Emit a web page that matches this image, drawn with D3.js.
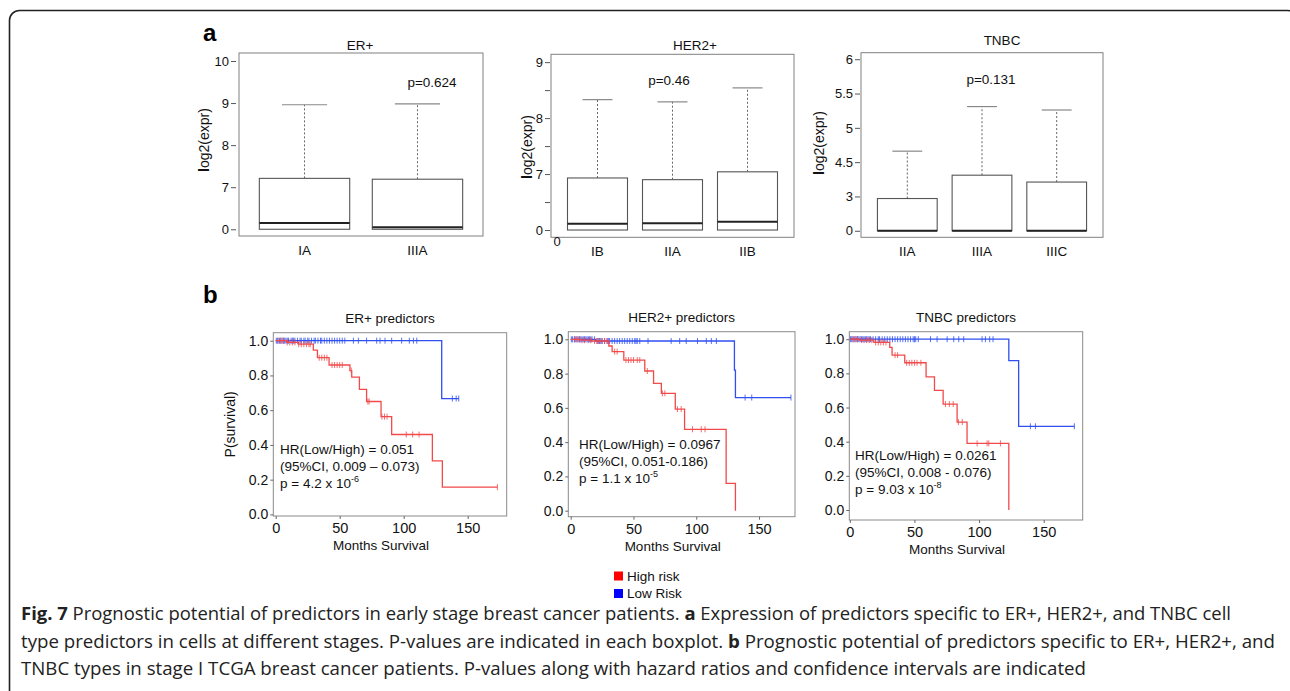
<!DOCTYPE html>
<html>
<head>
<meta charset="utf-8">
<script src="https://cdn.jsdelivr.net/npm/d3@7"></script>
<style>
  body { margin: 0; background: #fff; }
  svg { display: block; font-family: "Liberation Sans", Arial, sans-serif; }
</style>
</head>
<body>
<svg id="chart" width="1290" height="691"></svg>
<script>
// ---- panel a: boxplots (values in axis-position units, the axis labels are not linear) ----
var erStages = ["IA", "IIIA"];
var erQ1 = [0, 0];
var erMedian = [0.15, 0.05];
var erQ3 = [1.21, 1.19];
var erWhisker = [2.96, 2.98];
var erTickPos = [0, 1, 2, 3, 4];
var erTickLabels = ["0", "7", "8", "9", "10"];

var herStages = ["IB", "IIA", "IIB"];
var herQ1 = [0, 0, 0];
var herMedian = [0.11, 0.12, 0.15];
var herQ3 = [0.93, 0.9, 1.04];
var herWhisker = [2.33, 2.29, 2.54];
var herTickPos = [0, 0.5, 1, 1.5, 2, 2.5, 3];
var herTickLabels = ["0", "7", "8", "9"];

var tnStages = ["IIA", "IIIA", "IIIC"];
var tnQ1 = [0, 0, 0];
var tnMedian = [0, 0, 0];
var tnQ3 = [0.94, 1.62, 1.42];
var tnWhisker = [2.32, 3.62, 3.52];
var tnTickPos = [0, 1, 2, 3, 4, 5];
var tnTickLabels = ["0", "3", "4.5", "5", "5.5", "6"];

// ---- panel b: Kaplan-Meier curves (months, survival) ----
var erHighTime = [0, 8.6, 17.7, 29.4, 32.6, 41.7, 58, 59.4, 65.4, 71, 82.3, 90.6, 122.4, 130.2];
var erHighSurv = [1, 0.99, 0.98, 0.946, 0.902, 0.86, 0.828, 0.79, 0.72, 0.65, 0.563, 0.46, 0.308, 0.157];
var erHighEnd = 173.2;
var erHighCensor = [2, 4, 6, 9, 11, 13, 15, 18, 20, 22, 24, 26, 27, 34, 36, 38, 40, 44, 46, 48, 50, 52, 59, 72, 73, 83, 85, 87, 102, 107, 112, 173.2];
var erLowTime = [0, 129.7];
var erLowSurv = [1, 0.667];
var erLowEnd = 143;
var erLowCensor = [0.5, 1.5, 3, 4, 5, 6, 7, 8, 9, 10, 12, 13, 14, 15, 17, 19, 20, 22, 23, 25, 26, 28, 30, 31, 33, 35, 36, 38, 40, 42, 44, 46, 48, 50, 52, 54,
  60.7, 64.6, 71, 78.9, 81.5, 85.4, 90.6, 98.4, 104.4, 107.6, 110.2, 138, 141, 143];

var herHighTime = [0, 8, 16.7, 30.4, 33, 42.3, 59, 66, 72.2, 83.3, 90.7, 123.8, 131.2];
var herHighSurv = [1, 0.995, 0.99, 0.961, 0.928, 0.879, 0.815, 0.743, 0.685, 0.593, 0.475, 0.16, 0];
var herHighEnd = 131.2;
var herHighCensor = [3, 5, 7, 9, 11, 14, 16, 19, 21, 23, 25, 27, 29, 35, 37, 44, 46, 48, 50, 53, 55, 61, 73, 75, 85, 88, 97, 104, 107];
var herLowTime = [0, 20, 130.4, 131.2];
var herLowSurv = [1, 0.99, 0.82, 0.66];
var herLowEnd = 175.4;
var herLowCensor = [0.5, 1.5, 3, 4, 5, 6, 7, 8, 9, 10, 11, 12, 13, 14, 15, 16, 17, 19, 21, 22, 23, 24, 25, 27, 29, 30, 31, 33, 35, 37, 39, 41, 43, 45, 47, 49, 51, 52, 53, 55,
  61.6, 80, 86.8, 92, 101, 108, 112, 116, 138.9, 144.2, 175.4];

var tnHighTime = [0, 7, 18.6, 30.9, 32.7, 42.5, 59, 65.5, 72.2, 83, 90.7, 123];
var tnHighSurv = [1, 0.995, 0.981, 0.952, 0.907, 0.862, 0.78, 0.7, 0.62, 0.515, 0.39, 0];
var tnHighEnd = 123;
var tnHighCensor = [2, 4, 6, 9, 11, 13, 15, 17, 20, 22, 24, 26, 28, 35, 37, 44, 46, 48, 50, 52, 55, 74, 77, 80, 84, 87, 98.5, 106.2, 107.5, 116.5];
var tnLowTime = [0, 123, 130.6];
var tnLowSurv = [1, 0.874, 0.49];
var tnLowEnd = 173.7;
var tnLowCensor = [0.5, 1.5, 3, 4, 5, 6, 7, 8, 9, 10, 11, 12, 13, 14, 15, 16, 18, 20, 22, 23, 25, 27, 29, 31, 33, 35, 37, 39, 41, 43, 45, 47, 49, 50, 51, 53,
  62.4, 67.5, 75.3, 80.4, 84.3, 88.1, 102.3, 104.9, 108.2, 110.8, 139.7, 143.6, 173.7];

var kmXTicks = [0, 50, 100, 150];
var kmYTicks = [0, 0.2, 0.4, 0.6, 0.8, 1.0];

var legendLabels = ["High risk", "Low Risk"];
var legendColors = ["#ff0000", "#0000ff"];

var svg = d3.select("#chart");

// outer rounded frame
svg.append("rect")
  .attr("x", 9.5).attr("y", 10.5)
  .attr("width", 1288).attr("height", 720)
  .attr("rx", 10)
  .attr("fill", "none").attr("stroke", "#222").attr("stroke-width", 1.6);

// panel letters
svg.append("text").attr("x", 203).attr("y", 41).attr("font-size", 24).attr("font-weight", "bold").text("a");
svg.append("text").attr("x", 203).attr("y", 303).attr("font-size", 24).attr("font-weight", "bold").text("b");

function boxPanel(p) {
  var n = p.stages.length;
  var x = d3.scaleLinear().domain([0.5 - 0.04 * n, n + 0.5 + 0.04 * n]).range([p.left, p.right]);
  var y = d3.scaleLinear().domain(p.yDomain).range([p.bottom, p.top]);
  var g = svg.append("g");

  g.append("rect")
    .attr("x", p.left).attr("y", p.top)
    .attr("width", p.right - p.left).attr("height", p.bottom - p.top)
    .attr("fill", "none").attr("stroke", "#808080");

  var ax = g.append("g")
    .attr("transform", "translate(" + (p.left - p.tickGap) + ",0)")
    .call(d3.axisLeft(y).tickValues(p.tickPos).tickSize(5).tickPadding(2)
      .tickFormat(function(d) { return Number.isInteger(d) ? p.tickLabels[d] : ""; }));
  ax.select(".domain").remove();
  ax.selectAll("line").attr("stroke", "#555");
  ax.selectAll("text").attr("font-size", 13).attr("fill", "#111").attr("font-family", null);

  p.stages.forEach(function(s, i) {
    var cx = x(i + 1);
    var hw = x(1.4) - x(1);
    g.append("line")
      .attr("x1", cx).attr("x2", cx)
      .attr("y1", y(p.q3[i])).attr("y2", y(p.whisker[i]))
      .attr("stroke", "#666").attr("stroke-dasharray", "2,2");
    g.append("line")
      .attr("x1", cx - hw / 2).attr("x2", cx + hw / 2)
      .attr("y1", y(p.whisker[i])).attr("y2", y(p.whisker[i]))
      .attr("stroke", "#888").attr("stroke-width", 1.2);
    g.append("rect")
      .attr("x", cx - hw).attr("y", y(p.q3[i]))
      .attr("width", 2 * hw).attr("height", y(p.q1[i]) - y(p.q3[i]))
      .attr("fill", "#fff").attr("stroke", "#555").attr("stroke-width", 1.1);
    g.append("line")
      .attr("x1", cx - hw).attr("x2", cx + hw)
      .attr("y1", y(p.median[i])).attr("y2", y(p.median[i]))
      .attr("stroke", "#222").attr("stroke-width", 2);
    g.append("text")
      .attr("x", cx).attr("y", p.bottom + 19)
      .attr("text-anchor", "middle").attr("font-size", 13.5).attr("fill", "#111")
      .text(s);
  });

  g.append("text")
    .attr("x", p.titleX).attr("y", p.titleY)
    .attr("text-anchor", "middle").attr("font-size", 13.5).attr("fill", "#111")
    .text(p.title);
  g.append("text")
    .attr("x", p.pX).attr("y", p.pY)
    .attr("text-anchor", "middle").attr("font-size", 13.5).attr("fill", "#111")
    .text(p.pText);

  var yl = g.append("text")
    .attr("transform", "translate(" + p.ylabX + "," + p.ylabY + ") rotate(-90)")
    .attr("text-anchor", "middle").attr("font-size", 14).attr("fill", "#111");
  yl.append("tspan").attr("font-weight", "bold").text("l");
  yl.append("tspan").text("og2(expr)");
  return g;
}

boxPanel({
  stages: erStages, q1: erQ1, median: erMedian, q3: erQ3, whisker: erWhisker,
  tickPos: erTickPos, tickLabels: erTickLabels, tickGap: 3,
  left: 239, right: 483, top: 53, bottom: 236, yDomain: [-0.16, 4.19],
  title: "ER+", titleX: 360, titleY: 50, pText: "p=0.624", pX: 432, pY: 87,
  ylabX: 209, ylabY: 140
});

var herG = boxPanel({
  stages: herStages, q1: herQ1, median: herMedian, q3: herQ3, whisker: herWhisker,
  tickPos: herTickPos, tickLabels: herTickLabels, tickGap: 1,
  left: 551, right: 794, top: 54.3, bottom: 237.3, yDomain: [-0.13, 3.14],
  title: "HER2+", titleX: 695, titleY: 50, pText: "p=0.46", pX: 669, pY: 85,
  ylabX: 532, ylabY: 147
});
herG.append("text").attr("x", 557).attr("y", 246).attr("text-anchor", "middle")
  .attr("font-size", 13).attr("fill", "#111").text("0");

boxPanel({
  stages: tnStages, q1: tnQ1, median: tnMedian, q3: tnQ3, whisker: tnWhisker,
  tickPos: tnTickPos, tickLabels: tnTickLabels, tickGap: 1,
  left: 861, right: 1103, top: 52.7, bottom: 237.3, yDomain: [-0.19, 5.19],
  title: "TNBC", titleX: 1002, titleY: 45, pText: "p=0.131", pX: 991, pY: 84,
  ylabX: 824, ylabY: 143
});

function stepAt(times, surv, t) {
  var s = surv[0];
  for (var i = 0; i < times.length; i++) { if (times[i] <= t) s = surv[i]; }
  return s;
}

function kmPanel(p) {
  var x = d3.scaleLinear().domain([0, 180]).range([p.x0, p.x180]);
  var y = d3.scaleLinear().domain([0, 1]).range([p.y0, p.y1]);
  var g = svg.append("g");

  g.append("rect")
    .attr("x", p.left).attr("y", p.top)
    .attr("width", p.right - p.left).attr("height", p.bottom - p.top)
    .attr("fill", "none").attr("stroke", "#8a8a8a");

  var ay = g.append("g").attr("transform", "translate(" + p.left + ",0)")
    .call(d3.axisLeft(y).tickValues(kmYTicks).tickSize(3).tickPadding(2).tickFormat(d3.format(".1f")));
  ay.select(".domain").remove();
  ay.selectAll("line").attr("stroke", "#666");
  ay.selectAll("text").attr("font-size", 14).attr("fill", "#111").attr("font-family", null);

  var axb = g.append("g").attr("transform", "translate(0," + p.bottom + ")")
    .call(d3.axisBottom(x).tickValues(kmXTicks).tickSize(3).tickPadding(4).tickFormat(d3.format("d")));
  axb.select(".domain").remove();
  axb.selectAll("line").attr("stroke", "#666");
  axb.selectAll("text").attr("font-size", 14.5).attr("fill", "#111").attr("font-family", null);

  var line = d3.line()
    .x(function(d) { return x(d[0]); })
    .y(function(d) { return y(d[1]); })
    .curve(d3.curveStepAfter);

  [
    { times: p.lowTime, surv: p.lowSurv, end: p.lowEnd, cens: p.lowCensor, color: "#2f4ff2" },
    { times: p.highTime, surv: p.highSurv, end: p.highEnd, cens: p.highCensor, color: "#f24a4a" }
  ].forEach(function(c) {
    var pts = c.times.map(function(t, i) { return [t, c.surv[i]]; });
    pts.push([c.end, c.surv[c.surv.length - 1]]);
    g.append("path").attr("d", line(pts))
      .attr("fill", "none").attr("stroke", c.color).attr("stroke-width", 1.3);
    g.selectAll(null).data(c.cens).enter().append("line")
      .attr("x1", function(t) { return x(t); })
      .attr("x2", function(t) { return x(t); })
      .attr("y1", function(t) { return y(stepAt(c.times, c.surv, t)) - 3; })
      .attr("y2", function(t) { return y(stepAt(c.times, c.surv, t)) + 3; })
      .attr("stroke", c.color).attr("stroke-width", 1).attr("opacity", 0.8);
  });

  g.append("text")
    .attr("x", (p.left + p.right) / 2).attr("y", p.top - 10)
    .attr("text-anchor", "middle").attr("font-size", 13.5).attr("fill", "#111")
    .text(p.title);
  g.append("text")
    .attr("x", (p.left + p.right) / 2 - 9).attr("y", p.bottom + 34)
    .attr("text-anchor", "middle").attr("font-size", 13.5).attr("fill", "#111")
    .text("Months Survival");

  var hr = g.append("text").attr("font-size", 13.5).attr("fill", "#111");
  hr.append("tspan").attr("x", p.hrX).attr("y", p.hrY).text(p.hr);
  hr.append("tspan").attr("x", p.hrX).attr("y", p.hrY + 17).text(p.ci);
  var pl = g.append("text").attr("x", p.hrX).attr("y", p.hrY + 34).attr("font-size", 13.5).attr("fill", "#111");
  pl.append("tspan").text(p.pBase);
  pl.append("tspan").attr("font-size", 9).attr("dy", -6).text(p.pExp);

  if (p.ylab) {
    g.append("text")
      .attr("transform", "translate(235," + ((p.top + p.bottom) / 2) + ") rotate(-90)")
      .attr("text-anchor", "middle").attr("font-size", 14).attr("fill", "#111")
      .text(p.ylab);
  }
}

kmPanel({
  title: "ER+ predictors", ylab: "P(survival)",
  left: 273.3, right: 506.7, top: 332.7, bottom: 516,
  x0: 275.7, x180: 506.1, y0: 514.4, y1: 340.7,
  highTime: erHighTime, highSurv: erHighSurv, highEnd: erHighEnd, highCensor: erHighCensor,
  lowTime: erLowTime, lowSurv: erLowSurv, lowEnd: erLowEnd, lowCensor: erLowCensor,
  hrX: 280, hrY: 454, hr: "HR(Low/High) = 0.051", ci: "(95%CI, 0.009 \u2013 0.073)",
  pBase: "p = 4.2 x 10", pExp: "-6"
});

kmPanel({
  title: "HER2+ predictors",
  left: 568.3, right: 795, top: 331.7, bottom: 516.7,
  x0: 570.7, x180: 796.7, y0: 510.7, y1: 339.3,
  highTime: herHighTime, highSurv: herHighSurv, highEnd: herHighEnd, highCensor: herHighCensor,
  lowTime: herLowTime, lowSurv: herLowSurv, lowEnd: herLowEnd, lowCensor: herLowCensor,
  hrX: 579, hrY: 449, hr: "HR(Low/High) = 0.0967", ci: "(95%CI, 0.051-0.186)",
  pBase: "p = 1.1 x 10", pExp: "-5"
});

kmPanel({
  title: "TNBC predictors",
  left: 849.3, right: 1082.7, top: 331.7, bottom: 520,
  x0: 849.8, x180: 1082.5, y0: 510, y1: 339.2,
  highTime: tnHighTime, highSurv: tnHighSurv, highEnd: tnHighEnd, highCensor: tnHighCensor,
  lowTime: tnLowTime, lowSurv: tnLowSurv, lowEnd: tnLowEnd, lowCensor: tnLowCensor,
  hrX: 855, hrY: 460, hr: "HR(Low/High) = 0.0261", ci: "(95%CI, 0.008 - 0.076)",
  pBase: "p = 9.03 x 10", pExp: "-8"
});

// legend
var lg = svg.append("g");
legendLabels.forEach(function(l, i) {
  lg.append("rect").attr("x", 614).attr("y", 571.5 + i * 17.5).attr("width", 9).attr("height", 9)
    .attr("fill", legendColors[i]);
  lg.append("text").attr("x", 627).attr("y", 580.5 + i * 17.5)
    .attr("font-size", 13.5).attr("fill", "#111").text(l);
});

// caption
var capLines = [
  { bold: "Fig. 7", rest: " Prognostic potential of predictors in early stage breast cancer patients. ", b2: "a", rest2: " Expression of predictors specific to ER+, HER2+, and TNBC cell", len: 1210 },
  { bold: "", rest: "type predictors in cells at different stages. P-values are indicated in each boxplot. ", b2: "b", rest2: " Prognostic potential of predictors specific to ER+, HER2+, and", len: 1254 },
  { bold: "", rest: "TNBC types in stage I TCGA breast cancer patients. P-values along with hazard ratios and confidence intervals are indicated", b2: "", rest2: "", len: 1065 }
];
capLines.forEach(function(c, i) {
  var t = svg.append("text")
    .attr("x", 21).attr("y", 620 + i * 27.5)
    .attr("font-family", "'Open Sans', 'Noto Sans', sans-serif")
    .attr("font-size", 17.5).attr("fill", "#222")
    .attr("textLength", c.len).attr("lengthAdjust", "spacingAndGlyphs");
  if (c.bold) t.append("tspan").attr("font-weight", "bold").text(c.bold);
  t.append("tspan").text(c.rest);
  if (c.b2) t.append("tspan").attr("font-weight", "bold").text(c.b2);
  if (c.rest2) t.append("tspan").text(c.rest2);
});
</script>
</body>
</html>
